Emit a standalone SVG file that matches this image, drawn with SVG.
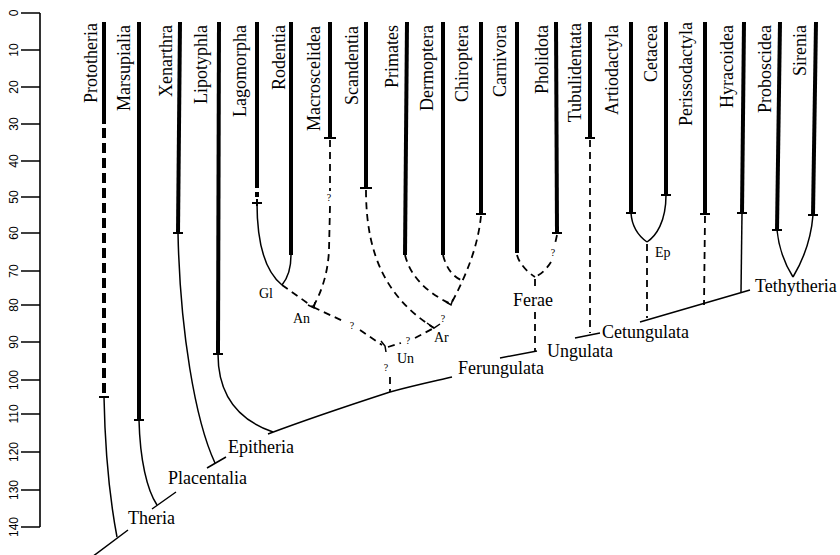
<svg xmlns="http://www.w3.org/2000/svg" width="840" height="555" viewBox="0 0 840 555">
<style>
.bg{fill:#fff}
.ax{stroke:#000;stroke-width:1.6;fill:none}
.num{font-family:"Liberation Sans",Arial,sans-serif;font-size:12px;fill:#000;text-anchor:middle}
.tx{font-family:"Liberation Serif","Times New Roman",serif;font-size:18px;fill:#000}
.sm{font-family:"Liberation Serif","Times New Roman",serif;font-size:14px;fill:#000}
.q{font-family:"Liberation Serif","Times New Roman",serif;font-size:10px;fill:#000;text-anchor:middle}
.thick{stroke:#000;stroke-width:4;fill:none}
.thickd{stroke:#000;stroke-width:4;fill:none;stroke-dasharray:10 5}
.thin{stroke:#000;stroke-width:1.5;fill:none}
.dash{stroke:#000;stroke-width:1.8;fill:none;stroke-dasharray:7 5}
.bar{stroke:#000;stroke-width:2;fill:none}
</style>
<rect class="bg" x="0" y="0" width="840" height="555"/>
<g id="axis">
<path class="ax" d="M40,13 V527 M21,13 H40 M21,50 H40 M21,87 H40 M21,124 H40 M21,161 H40 M21,197 H40 M21,233 H40 M21,271 H40 M21,305 H40 M21,342 H40 M21,380 H40 M21,414 H40 M21,452 H40 M21,490 H40 M21,527 H40"/>
<text class="num" transform="translate(18,13) rotate(-90)">0</text>
<text class="num" transform="translate(18,50) rotate(-90)">10</text>
<text class="num" transform="translate(18,87) rotate(-90)">20</text>
<text class="num" transform="translate(18,124) rotate(-90)">30</text>
<text class="num" transform="translate(18,161) rotate(-90)">40</text>
<text class="num" transform="translate(18,197) rotate(-90)">50</text>
<text class="num" transform="translate(18,233) rotate(-90)">60</text>
<text class="num" transform="translate(18,271) rotate(-90)">70</text>
<text class="num" transform="translate(18,305) rotate(-90)">80</text>
<text class="num" transform="translate(18,342) rotate(-90)">90</text>
<text class="num" transform="translate(18,380) rotate(-90)">100</text>
<text class="num" transform="translate(18,414) rotate(-90)">110</text>
<text class="num" transform="translate(18,452) rotate(-90)">120</text>
<text class="num" transform="translate(18,490) rotate(-90)">130</text>
<text class="num" transform="translate(18,527) rotate(-90)">140</text>
</g>
<g id="taxa" text-anchor="end">
<g id="prototheria"><text class="tx" transform="translate(97,23) rotate(-90)">Prototheria</text><path class="thick" d="M104,22 V124"/><path class="thickd" d="M104,128 V397"/><path class="bar" d="M99,397 H109"/></g>
<g id="marsupialia"><text class="tx" transform="translate(129.5,25) rotate(-90)">Marsupialia</text><path class="thick" d="M139,22 V420"/><path class="bar" d="M134,420 H144"/></g>
<g id="xenarthra"><text class="tx" transform="translate(172,25) rotate(-90)">Xenarthra</text><path class="thick" d="M180,22 L178,233"/><path class="bar" d="M173,233 H183"/></g>
<g id="lipotyphla"><text class="tx" transform="translate(207,25) rotate(-90)">Lipotyphla</text><path class="thick" d="M219,22 L218,354"/><path class="bar" d="M213,354 H223"/></g>
<g id="lagomorpha"><text class="tx" transform="translate(246,25) rotate(-90)">Lagomorpha</text><path class="thick" d="M257,22 V188 M257,192 V197"/><path class="bar" d="M252,203 H262 M257,199 V206"/></g>
<g id="rodentia"><text class="tx" transform="translate(285,25) rotate(-90)">Rodentia</text><path class="thick" d="M291,22 V255"/></g>
<g id="macroscelidea"><text class="tx" transform="translate(320,26) rotate(-90)">Macroscelidea</text><path class="thick" d="M330,22 V138"/><path class="bar" d="M324,138 H336"/></g>
<g id="scandentia"><text class="tx" transform="translate(358,26) rotate(-90)">Scandentia</text><path class="thick" d="M366,22 V188"/><path class="bar" d="M360,188 H372"/></g>
<g id="primates"><text class="tx" transform="translate(398,25) rotate(-90)">Primates</text><path class="thick" d="M407,22 L405,255"/></g>
<g id="dermoptera"><text class="tx" transform="translate(433,25) rotate(-90)">Dermoptera</text><path class="thick" d="M443,22 V255"/></g>
<g id="chiroptera"><text class="tx" transform="translate(468,25) rotate(-90)">Chiroptera</text><path class="thick" d="M481,22 V214"/><path class="bar" d="M476,214 H486"/></g>
<g id="carnivora"><text class="tx" transform="translate(506,25) rotate(-90)">Carnivora</text><path class="thick" d="M517,22 V253"/></g>
<g id="pholidota"><text class="tx" transform="translate(548,25) rotate(-90)">Pholidota</text><path class="thick" d="M556,22 L557,233"/><path class="bar" d="M552,233 H562"/></g>
<g id="tubulidentata"><text class="tx" transform="translate(581,23) rotate(-90)">Tubulidentata</text><path class="thick" d="M590,22 V138"/><path class="bar" d="M585,138 H595"/></g>
<g id="artiodactyla"><text class="tx" transform="translate(618,25) rotate(-90)">Artiodactyla</text><path class="thick" d="M631,22 V213"/><path class="bar" d="M626,213 H636"/></g>
<g id="cetacea"><text class="tx" transform="translate(657,25) rotate(-90)">Cetacea</text><path class="thick" d="M666,22 V195"/><path class="bar" d="M661,195 H671"/></g>
<g id="perissodactyla"><text class="tx" transform="translate(692,22) rotate(-90)">Perissodactyla</text><path class="thick" d="M705,22 V214"/><path class="bar" d="M700,214 H710"/></g>
<g id="hyracoidea"><text class="tx" transform="translate(733,25) rotate(-90)">Hyracoidea</text><path class="thick" d="M744,22 L742,213"/><path class="bar" d="M737,213 H747"/></g>
<g id="proboscidea"><text class="tx" transform="translate(771,25) rotate(-90)">Proboscidea</text><path class="thick" d="M780,22 L777,230"/><path class="bar" d="M772,230 H782"/></g>
<g id="sirenia"><text class="tx" transform="translate(806,25) rotate(-90)">Sirenia</text><path class="thick" d="M816,22 L813,215"/><path class="bar" d="M808,215 H818"/></g>
</g>
<g id="connectors">
<path class="thin" d="M104,397 C105,450 110,500 117,537"/>
<path class="thin" d="M139,420 C140,460 147,490 157,505"/>
<path class="thin" d="M178,233 C180,330 195,420 215,463"/>
<path class="thin" d="M218,354 C218,395 238,420 273,432"/>
<path class="thin" d="M257,203 C257,245 266,272 282,285"/>
<path class="thin" d="M291,255 C291,270 287,279 282,285"/>
<path class="thin" d="M631,213 C632,228 640,237 647,242"/>
<path class="thin" d="M666,195 C666,222 656,236 647,242"/>
<path class="thin" d="M742,213 L741,292"/>
<path class="thin" d="M777,230 C779,250 786,266 793,277"/>
<path class="thin" d="M813,215 C811,240 802,262 793,277"/>
<path class="thin" d="M92,557 L128,530 M152,509 L176,492 M207,468 L226,457 M268,434 C300,422 350,405 390,392 C420,384 440,380 452,377 M500,358 L537,351 M575,338 L600,333 M640,322 L750,290"/>
<path class="dash" d="M282,285 L313,307"/>
<path class="dash" d="M330,140 V191 M330,206 L329,250 C328,275 320,295 313,307"/>
<path class="thin" d="M308,305 L314,308 L315,302"/>
<path class="dash" d="M313,307 L345,322 M360,330 L382,345"/>
<path class="thin" d="M381,341 L385,346 L386,352"/>
<path class="dash" d="M388,347 L401,343 M415,338 L434,328"/>
<path class="dash" d="M390,377 V392"/>
<path class="dash" d="M366,190 C366,260 390,300 434,328"/>
<path class="thin" d="M427,323 L434,328 L440,324"/>
<path class="dash" d="M405,255 C410,275 425,292 451,304"/>
<path class="dash" d="M443,255 C446,267 452,276 461,280"/>
<path class="dash" d="M481,216 C478,245 468,272 451,304"/>
<path class="thin" d="M446,302 L451,305 L453,299"/>
<path class="dash" d="M517,255 C519,263 527,272 535,277"/>
<path class="dash" d="M557,235 L555,244 M551,262 C546,270 540,275 535,277"/>
<path class="dash" d="M535,279 V290 M535,312 V352"/>
<path class="dash" d="M590,140 V333"/>
<path class="dash" d="M647,244 V318"/>
<path class="dash" d="M705,216 L704,305"/>
</g>
<g id="labels">
<text class="tx" x="128" y="524">Theria</text>
<text class="tx" x="168" y="484">Placentalia</text>
<text class="tx" x="228" y="453">Epitheria</text>
<text class="tx" x="458" y="374">Ferungulata</text>
<text class="tx" x="547" y="357">Ungulata</text>
<text class="tx" x="602" y="338">Cetungulata</text>
<text class="tx" x="755" y="292">Tethytheria</text>
<text class="tx" x="513" y="306">Ferae</text>
<text class="sm" x="259" y="298">Gl</text>
<text class="sm" x="293" y="323">An</text>
<text class="sm" x="397" y="363">Un</text>
<text class="sm" x="434" y="342">Ar</text>
<text class="sm" x="655" y="257">Ep</text>
<text class="q" x="329" y="201">?</text>
<text class="q" x="352" y="329">?</text>
<text class="q" x="443" y="322">?</text>
<text class="q" x="408" y="344">?</text>
<text class="q" x="386" y="371">?</text>
<text class="q" x="553" y="256">?</text>
</g>
</svg>
